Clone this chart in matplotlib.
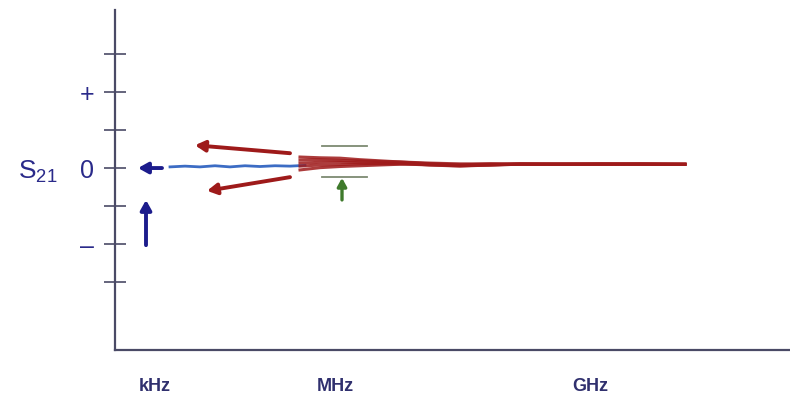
import numpy as np
import matplotlib.pyplot as plt

plt.rcParams['font.family'] = ['Liberation Sans', 'DejaVu Sans']

# ---- data (x in arbitrary frequency units, y in S21 units) ----
blue_x = [55, 70, 85, 100, 115, 130, 145, 160, 175, 190]
blue_y = [0.03, 0.05, 0.03, 0.06, 0.03, 0.06, 0.04, 0.06, 0.05, 0.07]

red_x = [185, 205, 225, 245, 265, 285, 315, 345, 375, 405, 445, 485, 525, 570]
red_traces = [
    [0.29, 0.27, 0.26, 0.22, 0.19, 0.16, 0.13, 0.11, 0.11, 0.10, 0.10, 0.11, 0.10, 0.10],
    [0.21, 0.22, 0.20, 0.19, 0.17, 0.16, 0.11, 0.08, 0.11, 0.11, 0.10, 0.10, 0.11, 0.10],
    [0.13, 0.15, 0.16, 0.14, 0.13, 0.13, 0.08, 0.05, 0.08, 0.10, 0.11, 0.10, 0.10, 0.10],
    [0.05, 0.08, 0.09, 0.11, 0.11, 0.11, 0.08, 0.06, 0.08, 0.11, 0.10, 0.11, 0.10, 0.10],
    [-0.05, 0.01, 0.04, 0.06, 0.08, 0.10, 0.11, 0.08, 0.08, 0.10, 0.10, 0.10, 0.11, 0.10],
]

ytick_vals = [3, 2, 1, 0, -1, -2, -3]
ytick_labels = ['', '+', '', '0', '', '\u2013', '']
xtick_vals = [40, 220, 475]
xtick_labels = ['kHz', 'MHz', 'GHz']

# annotation arrows: (tail, head)
blue_left_arrow = ((47, 0.0), (23, 0.0))
blue_up_arrow = ((31, -2.03), (31, -0.84))
red_arrows = [((175, 0.39), (80, 0.60)), ((175, -0.24), (92, -0.60))]
green_arrow = ((227, -0.84), (227, -0.26))
limit_x = [207, 252]
limit_levels = [0.58, -0.24]

# ---- colours ----
axis_color = '#4a4a66'
text_color = '#2a2a8a'
xlabel_color = '#30306e'
blue_line = '#3c6cc4'
blue_arrow = '#1c1c8c'
red_color = '#9e1a1a'
green_color = '#3f7a2c'
limit_color = '#7d8a72'

fig = plt.figure(figsize=(7.9, 3.97), dpi=100)
ax = fig.add_axes([115 / 790, 47 / 397, 675 / 790, 340 / 397])

ax.set_xlim(0, 675)
ax.set_ylim(-4.79, 4.16)

ax.spines[['top', 'right']].set_visible(False)
for s in ['left', 'bottom']:
    ax.spines[s].set_color(axis_color)
    ax.spines[s].set_linewidth(1.6)

ax.set_yticks(ytick_vals, ytick_labels)
ax.tick_params(axis='y', direction='inout', length=16, width=1.2, color=axis_color,
               labelcolor=text_color, labelsize=18, pad=7)
ax.set_xticks(xtick_vals, xtick_labels)
ax.tick_params(axis='x', length=0, labelcolor=xlabel_color, labelsize=13, pad=20)
for lab in ax.get_xticklabels():
    lab.set_fontweight('bold')

# traces
ax.plot(blue_x, blue_y, color=blue_line, lw=2.0, zorder=3)
for tr in red_traces:
    ax.plot(red_x, tr, color=red_color, lw=2.2, alpha=0.85, zorder=4)

# limit lines and arrows
for lvl in limit_levels:
    ax.plot(limit_x, [lvl, lvl], color=limit_color, lw=1.3)

def arrow(pair, color, lw, hw):
    (x0, y0), (x1, y1) = pair
    ax.annotate('', xy=(x1, y1), xytext=(x0, y0),
                arrowprops=dict(arrowstyle=f'-|>,head_width={hw},head_length={hw * 1.8}',
                                color=color, lw=lw, shrinkA=0, shrinkB=0))

arrow(blue_left_arrow, blue_arrow, 2.8, 0.32)
arrow(blue_up_arrow, blue_arrow, 2.8, 0.32)
for pair in red_arrows:
    arrow(pair, red_color, 2.8, 0.32)
arrow(green_arrow, green_color, 2.4, 0.27)

fig.text(18 / 790, 1 - 172 / 397, 'S$_{\\mathregular{21}}$', color=text_color,
         fontsize=19, va='center', ha='left')

fig.savefig('out.png', dpi=100, facecolor='white')
